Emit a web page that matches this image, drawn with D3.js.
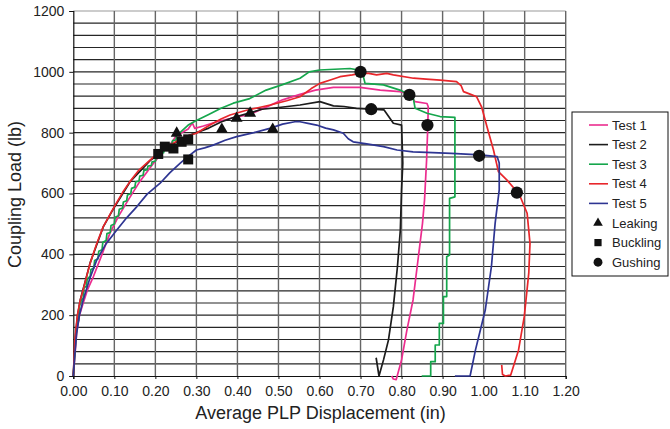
<!DOCTYPE html>
<html>
<head>
<meta charset="utf-8">
<script src="https://cdn.jsdelivr.net/npm/d3@7/dist/d3.min.js"></script>
<style>
  html, body { margin: 0; padding: 0; background: #fff; }
  svg { display: block; font-family: "Liberation Sans", Arial, Helvetica, sans-serif; }
</style>
</head>
<body>
<svg id="chart" width="670" height="429"></svg>
<script>
// Coupling load versus average PLP displacement, five tests
const xTicks = [0, 0.1, 0.2, 0.3, 0.4, 0.5, 0.6, 0.7, 0.8, 0.9, 1.0, 1.1, 1.2];
const yTicks = [0, 200, 400, 600, 800, 1000, 1200];
const yMinor = 40; // spacing of the horizontal grid lines (lb)

const seriesNames = ["Test 1", "Test 2", "Test 3", "Test 4", "Test 5"];

// [displacement (in), load (lb)]
const test1 = [
  [0,0],[0.003,50],[0.008,140],[0.015,200],[0.024,239],[0.035,285],[0.049,327],[0.07,400],
  [0.089,469],[0.11,525],[0.134,579],[0.16,635],[0.195,699],[0.22,740],[0.24,768],[0.25,788],
  [0.255,778],[0.262,798],[0.28,812],[0.29,832],[0.296,814],[0.317,822],[0.35,836],[0.39,849],
  [0.43,860],[0.47,884],[0.51,908],[0.5525,926],[0.59,940],[0.634,949],[0.699,949],[0.748,940],
  [0.796,935],[0.815,929],[0.823,920],[0.833,902],[0.862,896],[0.865,885],[0.864,825],
  [0.861,710],[0.856,579],[0.851,502],[0.841,392],[0.828,250],[0.813,151],[0.80,53],
  [0.79,3],[0.787,-12],[0.78,-10],[0.776,0]
];
const test2 = [
  [0,0],[0.004,110],[0.01,195],[0.017,250],[0.024,285],[0.041,372],[0.073,490],[0.1,555],
  [0.138,638],[0.187,708],[0.236,757],[0.27,785],[0.30,800],[0.33,815],[0.36,835],[0.39,850],
  [0.43,865],[0.46,877],[0.496,882],[0.5525,891],[0.601,902],[0.634,888],[0.66,886],[0.69,880],
  [0.726,877],[0.757,875],[0.766,858],[0.78,831],[0.80,825],[0.803,700],[0.80,612],[0.797,480],
  [0.79,360],[0.78,228],[0.768,118],[0.756,53],[0.745,0],[0.738,60]
];
const test3 = [
  [0,0],[0.003,60],[0.006,120],[0.01,180],[0.013,182],[0.015,230],[0.02,250],[0.024,255],
  [0.026,290],[0.032,295],[0.034,320],[0.041,327],[0.043,350],[0.05,355],[0.052,380],[0.06,385],
  [0.062,410],[0.07,415],[0.072,440],[0.08,445],[0.082,468],[0.09,472],[0.092,495],[0.1,500],
  [0.102,522],[0.11,527],[0.112,548],[0.12,552],[0.122,572],[0.13,576],[0.132,595],[0.14,599],
  [0.142,617],[0.15,621],[0.152,638],[0.16,641],[0.162,657],[0.17,660],[0.172,675],[0.18,678],
  [0.182,690],[0.19,692],[0.192,704],[0.2,706],[0.202,718],[0.21,720],[0.212,732],[0.22,734],
  [0.222,746],[0.23,748],[0.232,760],[0.24,762],[0.242,774],[0.25,776],[0.252,790],[0.26,800],
  [0.28,825],[0.30,840],[0.33,860],[0.36,880],[0.39,897],[0.43,912],[0.47,940],[0.51,958],
  [0.5525,979],[0.575,1000],[0.6,1006],[0.674,1011],[0.70,1005],[0.705,995],[0.711,962],
  [0.756,957],[0.796,940],[0.828,918],[0.833,880],[0.862,864],[0.894,853],[0.93,850],
  [0.93,589],[0.917,584],[0.917,398],[0.91,392],[0.91,261],[0.902,261],[0.902,173],[0.892,173],
  [0.892,102],[0.882,102],[0.882,47],[0.871,47],[0.871,0],[0.849,0]
];
const test4 = [
  [0,0],[0.004,120],[0.01,200],[0.017,250],[0.024,283],[0.041,371],[0.057,435],[0.073,491],
  [0.1,557],[0.12,603],[0.138,639],[0.16,677],[0.187,710],[0.21,738],[0.236,759],[0.26,778],
  [0.28,790],[0.30,798],[0.33,823],[0.36,845],[0.382,858],[0.42,873],[0.45,882],[0.48,891],
  [0.52,905],[0.5525,918],[0.58,945],[0.601,962],[0.63,975],[0.65,984],[0.68,990],[0.699,995],
  [0.72,995],[0.739,990],[0.764,995],[0.78,990],[0.829,979],[0.86,976],[0.894,973],[0.934,968],
  [0.945,955],[0.951,935],[0.97,925],[0.983,918],[0.995,885],[1.008,820],[1.024,743],
  [1.036,672],[1.057,644],[1.081,606],[1.089,590],[1.106,535],[1.113,436],[1.11,338],
  [1.099,195],[1.085,85],[1.066,3],[1.053,0],[1.046,5],[1.044,36]
];
const test5 = [
  [0,0],[0.003,60],[0.008,140],[0.015,200],[0.024,250],[0.04,320],[0.057,381],[0.08,435],
  [0.106,480],[0.13,520],[0.155,557],[0.18,598],[0.211,633],[0.235,668],[0.26,699],[0.28,722],
  [0.30,743],[0.32,750],[0.341,759],[0.37,775],[0.398,787],[0.44,800],[0.479,814],[0.51,828],
  [0.54,836],[0.5525,836],[0.575,830],[0.593,825],[0.615,815],[0.634,809],[0.658,798],
  [0.67,780],[0.682,770],[0.715,763],[0.756,754],[0.789,743],[0.828,737],[0.86,735],
  [0.921,732],[0.992,727],[1.033,721],[1.038,700],[1.038,612],[1.028,502],[1.019,360],
  [1.004,217],[0.994,162],[0.98,85],[0.967,0],[0.93,0]
];

// event markers
const leaking  = [[0.252,798],[0.362,811],[0.398,847],[0.431,864],[0.486,811]];
const buckling = [[0.207,730],[0.223,754],[0.244,748],[0.264,770],[0.28,778],[0.28,712]];
const gushing  = [[0.70,1000],[0.726,877],[0.819,924],[0.863,825],[0.989,724],[1.081,603]];

const seriesData = [test1, test2, test3, test4, test5];
const seriesColors = ["#ec2d8f", "#1c1c1c", "#15a64c", "#e8262b", "#2e3592"];

const svg = d3.select("#chart");
const x = d3.scaleLinear().domain([0, 1.2]).range([73.3, 565.7]);
const y = d3.scaleLinear().domain([0, 1200]).range([376, 11]);

// grid
const grid = svg.append("g");
grid.selectAll("line.h")
  .data(d3.range(yMinor, 1200 + 1, yMinor))
  .join("line")
  .attr("x1", x(0)).attr("x2", x(1.2))
  .attr("y1", d => y(d)).attr("y2", d => y(d))
  .attr("stroke", d => d === 1200 ? "#9a9a9a" : "#262626")
  .attr("stroke-width", 1.1);
grid.selectAll("line.v")
  .data(xTicks.slice(1))
  .join("line")
  .attr("x1", d => x(d)).attr("x2", d => x(d))
  .attr("y1", y(0)).attr("y2", y(1200))
  .attr("stroke", "#666")
  .attr("stroke-width", 1.4);

// axes
const xAxis = svg.append("g")
  .attr("transform", `translate(0,${y(0)})`)
  .call(d3.axisBottom(x).tickValues(xTicks).tickFormat(d3.format(".2f")).tickSize(3).tickPadding(7));
const yAxis = svg.append("g")
  .attr("transform", `translate(${x(0)},0)`)
  .call(d3.axisLeft(y).tickValues(yTicks).tickFormat(d3.format("d")).tickSize(4).tickPadding(5));
[xAxis, yAxis].forEach(a => {
  a.select(".domain").attr("stroke", "#111").attr("stroke-width", 1.2);
  a.selectAll(".tick line").attr("stroke", "#111");
  a.selectAll(".tick text")
    .attr("fill", "#222")
    .style("font-size", "14px")
    .style("font-family", '"Liberation Sans", Arial, sans-serif');
});

// titles
svg.append("text")
  .attr("x", (x(0) + x(1.2)) / 2 + 1)
  .attr("y", 419)
  .attr("text-anchor", "middle")
  .attr("fill", "#222")
  .style("font-size", "18px")
  .text("Average PLP Displacement (in)");
svg.append("text")
  .attr("transform", `translate(21,${(y(0) + y(1200)) / 2 + 1}) rotate(-90)`)
  .attr("text-anchor", "middle")
  .attr("fill", "#222")
  .style("font-size", "18px")
  .text("Coupling Load (lb)");

// series lines
const line = d3.line().x(d => x(d[0])).y(d => y(d[1]));
svg.append("g").selectAll("path")
  .data(seriesData)
  .join("path")
  .attr("d", line)
  .attr("fill", "none")
  .attr("stroke", (d, i) => seriesColors[i])
  .attr("stroke-width", 1.7)
  .attr("stroke-linejoin", "round");

// markers
const markColor = "#111";
const tri = d3.symbol().type(d3.symbolTriangle).size(62);
const sq = d3.symbol().type(d3.symbolSquare).size(100);
const circ = d3.symbol().type(d3.symbolCircle).size(118);
const marks = svg.append("g").attr("fill", markColor);
marks.selectAll("path.lk").data(leaking).join("path")
  .attr("transform", d => `translate(${x(d[0])},${y(d[1])})`).attr("d", tri);
marks.selectAll("path.bk").data(buckling).join("path")
  .attr("transform", d => `translate(${x(d[0])},${y(d[1])})`).attr("d", sq);
marks.selectAll("path.gs").data(gushing).join("path")
  .attr("transform", d => `translate(${x(d[0])},${y(d[1])})`).attr("d", circ);

// legend
const lg = svg.append("g").attr("transform", "translate(572,112)");
lg.append("rect").attr("width", 96).attr("height", 164)
  .attr("fill", "#fff").attr("stroke", "#111").attr("stroke-width", 1);
const rowY = i => 13 + i * 19.6;
seriesNames.forEach((name, i) => {
  lg.append("line")
    .attr("x1", 17).attr("x2", 36)
    .attr("y1", rowY(i)).attr("y2", rowY(i))
    .attr("stroke", seriesColors[i]).attr("stroke-width", 1.6);
  lg.append("text").attr("x", 40).attr("y", rowY(i) + 4.5)
    .attr("fill", "#222").style("font-size", "13px").text(name);
});
const markerRows = [["Leaking", d3.symbolTriangle, 40], ["Buckling", d3.symbolSquare, 52], ["Gushing", d3.symbolCircle, 62]];
markerRows.forEach(([name, type, size], j) => {
  const i = 5 + j;
  lg.append("path")
    .attr("transform", `translate(26,${rowY(i)})`)
    .attr("d", d3.symbol().type(type).size(size)())
    .attr("fill", markColor);
  lg.append("text").attr("x", 40).attr("y", rowY(i) + 4.5)
    .attr("fill", "#222").style("font-size", "13px").text(name);
});
</script>
</body>
</html>
